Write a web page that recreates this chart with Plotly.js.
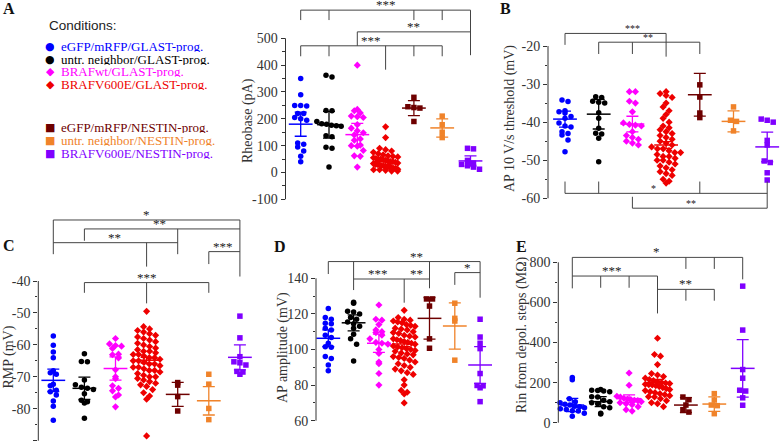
<!DOCTYPE html>
<html>
<head>
<meta charset="utf-8">
<script src="https://cdn.plot.ly/plotly-3.0.1.min.js"></script>
<style>
  html, body { margin: 0; padding: 0; background: #fff; }
  #plot { width: 781px; height: 446px; }
</style>
</head>
<body>
<div id="plot"></div>
<script>
const W = 781, H = 446;
const SERIF = 'Liberation Serif, Times New Roman, serif';
const SANS = 'Liberation Sans, Arial, sans-serif';
const AXIS_COLOR = '#333';

// Conditions (same order in every panel)
const conditions = [
  'eGFP/mRFP/GLAST-prog.', 'untr. neighbor/GLAST-prog.', 'BRAFwt/GLAST-prog.', 'BRAFV600E/GLAST-prog.',
  'eGFP/mRFP/NESTIN-prog.', 'untr. neighbor/NESTIN-prog.', 'BRAFV600E/NESTIN-prog.'
];
const colors = ['#0000ff', '#000000', '#ff00ff', '#ee0000', '#6e0000', '#f0832a', '#7f00ff'];
const symbols = ['circle', 'circle', 'diamond', 'diamond', 'square', 'square', 'square'];
const glyphs = ['●', '●', '◆', '◆', '■', '■', '■'];

// A: Rheobase (pA)
const rheobase = [
  [350, 290, 250, 250, 248, 220, 220, 205, 200, 195, 110, 105, 95, 80, 60, 40],
  [362, 356, 231, 230, 190, 182, 180, 176, 174, 172, 137, 133, 94, 90, 20],
  [400, 235, 230, 222, 210, 208, 205, 178, 165, 155, 148, 140, 125, 120, 102, 100, 98, 82, 62, 60, 20],
  [170, 130, 90, 85, 80, 75, 70, 66, 62, 60, 58, 55, 52, 50, 50, 48, 45, 42, 40, 40, 38, 35, 33, 30, 30, 28, 25, 25, 22, 20, 20, 18, 15, 15, 12, 10, 10, 8, 5, 5],
  [280, 245, 242, 240, 190],
  [210, 178, 150, 130],
  [90, 88, 45, 35, 30, 25, 20, 12]
];
const rheobaseMean = [180, 178, 141, 40, 240, 166, 43];
const rheobaseSem = [45, 50, 42, 10, 28, 34, 19];
const rheobaseTicks = [-100, 0, 100, 200, 300, 400, 500];
const rheobaseMinor = [-50, 50, 150, 250, 350, 450];
const rheobaseLines = [
  [1, 605, 7, 605], [1, 605, 1, 568], [2, 605, 2, 568], [5, 605, 5, 568], [6, 605, 6, 568], [7, 605, 7, 437],
  [3, 524, 7, 524], [3, 524, 3, 472],
  [1, 472, 6, 472], [1, 472, 1, 433], [2, 472, 2, 433], [4, 472, 4, 383], [5, 472, 5, 433], [6, 472, 6, 433]
];
const rheobaseStars = [[4, 605, '***'], [5, 524, '**'], [3.5, 472, '***']];

// B: AP 10 V/s threshold (mV)
const threshold = [
  [-34.2, -34.6, -37, -37.3, -37.6, -38.5, -39, -40.2, -41, -41.3, -42.5, -43, -43.4, -44.7, -47.8],
  [-33.3, -33.5, -34.5, -34.8, -35, -37.5, -39, -41.6, -42.9, -43.1, -44.2, -50.4],
  [-32, -32, -34.5, -35, -37.3, -40.2, -40.6, -40.8, -41, -42.5, -43.5, -44, -44.5, -45, -45.5, -46],
  [-32, -32.5, -33, -33.5, -35, -36, -37, -38, -39, -40, -41, -41.5, -42, -42.5, -43, -43.5, -44, -44.5, -45, -45.5, -46, -46.5, -47, -47, -47.5, -48, -48, -48.5, -49, -49, -49.5, -50, -50, -50.5, -51, -51.5, -52, -52.5, -53, -53.5, -54, -55, -55.5, -56],
  [-30.2, -33.4, -37.6, -38.8],
  [-36, -39.5, -39.8, -42.3],
  [-39.2, -39.5, -40, -44.8, -46, -50.2, -50.6, -53.3, -55.2]
];
const thresholdMean = [-39.2, -37.9, -40.5, -46, -32.8, -39.8, -46.5];
const thresholdSem = [2.1, 3.9, 2.05, 0.9, 5.6, 2.75, 3.9];
const thresholdTicks = [-60, -50, -40, -30, -20];
const thresholdMinor = [-55, -45, -35, -25];
const thresholdLines = [
  [1, -16.7, 4, -16.7], [1, -16.7, 1, -19.7], [4, -16.7, 4, -22.8],
  [2, -19, 5, -19], [2, -19, 2, -22.1], [3, -19, 3, -22.1], [5, -19, 5, -22.1],
  [1, -58.7, 7, -58.7], [1, -58.7, 1, -55.6], [2, -58.7, 2, -55.6], [5, -58.7, 5, -55.6], [7, -55.6, 7, -62.6],
  [3, -62.6, 7, -62.6], [3, -62.6, 3, -59.6]
];
const thresholdStars = [[3, -16.7, '***'], [3.46, -19, '**'], [3.64, -58.7, '*'], [4.74, -62.6, '**']];

// C: RMP (mV)
const rmp = [
  [-57.2, -60.1, -62.2, -64, -68.1, -68.7, -69.2, -72.3, -72.8, -74.2, -74.7, -75.7, -77.6, -79.2, -83.6],
  [-62.8, -65.2, -65.3, -71, -72.5, -73.3, -73.6, -74, -75.3, -77.3, -77.8, -78.2, -83],
  [-58, -59.7, -60.2, -60.4, -61.1, -62.9, -63.1, -64.1, -67.8, -70, -70.6, -72.8, -73.6, -74.4, -75.7, -76.3, -79.4],
  [-49.5, -54.3, -55, -55.5, -56, -56.5, -57, -57.5, -58, -58.5, -59, -59.5, -60, -60.5, -61, -61.5, -62, -62, -62.5, -63, -63, -63.5, -64, -64, -64.5, -65, -65, -65.5, -66, -66, -66.5, -67, -67, -67.5, -68, -68, -68.5, -69, -69.5, -70, -70, -70.5, -71, -71.5, -72, -72.5, -73, -74, -75, -76, -77, -88.5],
  [-71.8, -72.6, -76.2, -80.7],
  [-69.2, -72.3, -79.9, -83.4],
  [-51, -57.8, -63.7, -65.3, -65.6, -66.3, -68.3, -68.5, -69.2]
];
const rmpMean = [-71.1, -73.6, -67.4, -64.8, -75.5, -77.5, -63.9];
const rmpSem = [3.5, 3.5, 3.65, 0.9, 3.75, 4.45, 3.9];
const rmpTicks = [-90, -80, -70, -60, -50, -40];
const rmpMinor = [-85, -75, -65, -55, -45];
const rmpLines = [
  [1, -20.9, 7, -20.9], [1, -20.9, 1, -31.6], [7, -20.9, 7, -38.6],
  [2, -23.7, 7, -23.7], [2, -23.7, 2, -27.4], [5, -23.7, 5, -31.6],
  [1, -28, 5, -28], [4, -28, 4, -35.5],
  [6, -30.8, 7, -30.8], [6, -30.8, 6, -34.7],
  [2, -40.5, 6, -40.5], [2, -40.5, 2, -43.7], [6, -40.5, 6, -43.7], [4, -40.5, 4, -47]
];
const rmpStars = [[4, -20.9, '*'], [4.43, -23.7, '**'], [2.98, -28, '**'], [6.47, -30.8, '***'], [4, -40.5, '***']];

// D: AP amplitude (mV)
const amplitude = [
  [123, 118, 117, 114.7, 114.5, 112, 111, 108, 106.7, 103.5, 101.6, 101.2, 96, 95, 91.3, 88],
  [126.5, 126, 121.5, 121, 120, 118, 117, 115.5, 114.5, 113, 112, 108.5, 106, 103, 93.5],
  [125, 117, 116.5, 114, 111, 110, 109.5, 108, 106, 104, 103.5, 103, 100, 97.8, 93, 92, 86.5, 80],
  [122, 118, 117, 116.5, 116, 115.5, 115, 114, 113.5, 113, 112, 111.5, 111, 110, 109.5, 109, 108, 107.5, 107, 106, 105.5, 105, 104.5, 104, 103.5, 103, 102, 101.5, 101, 100.5, 100, 99.5, 99, 98, 97.5, 97, 96, 95.5, 95, 94, 93, 92, 91, 90, 89, 88, 87, 86, 83, 80, 77, 76, 75, 70],
  [128.4, 128.4, 124.4, 106, 100.7],
  [126, 117.5, 116, 94],
  [117, 107, 103.5, 100.5, 86.5, 79.8, 79.6, 78.5, 70.7]
];
const amplitudeMean = [106.3, 115, 103.5, 103.1, 117.5, 113.2, 91.3];
const amplitudeSem = [4.7, 4.5, 5.15, 1.5, 11.7, 13, 10.3];
const amplitudeTicks = [60, 80, 100, 120, 140];
const amplitudeMinor = [70, 90, 110, 130];
const amplitudeLines = [
  [1, 149.4, 7, 149.4], [1, 149.4, 1, 142.4], [2, 149.4, 2, 133.4], [5, 149.4, 5, 134.4], [7, 149.4, 7, 129.1],
  [2, 139.6, 5, 139.6], [4, 139.6, 4, 126.3],
  [6, 143.2, 7, 143.2], [6, 143.2, 6, 136.3]
];
const amplitudeStars = [[4.49, 149.4, '**'], [2.98, 139.6, '***'], [4.49, 139.6, '**'], [6.49, 143.2, '*']];

// E: Rin from depol. steps (MOhm)
const rin = [
  [226, 214, 120, 105, 100, 92, 88, 82, 80, 75, 70, 66, 60, 58, 47, 32],
  [165, 162, 160, 158, 155, 130, 128, 112, 105, 100, 95, 80, 75, 47, 43],
  [248, 187, 132, 128, 122, 118, 115, 112, 110, 105, 100, 95, 90, 80, 65, 58],
  [421, 340, 332, 290, 245, 238, 230, 222, 215, 210, 205, 200, 198, 195, 192, 190, 188, 185, 180, 175, 170, 165, 160, 155, 150, 145, 140, 135, 130, 128, 120, 110, 100, 95, 80],
  [128, 115, 88, 65, 53],
  [145, 113, 88, 85, 45],
  [681, 462, 265, 222, 162, 158, 124, 87]
];
const rinMean = [88, 105, 120, 200, 88, 93, 271];
const rinSem = [33, 25, 18.5, 16, 37, 36, 143];
const rinTicks = [0, 200, 400, 600, 800];
const rinMinor = [100, 300, 500, 700];
const rinLines = [
  [1, 824.6, 7, 824.6], [1, 824.6, 1, 670], [5, 824.6, 5, 767], [6, 824.6, 6, 767], [7, 824.6, 7, 715],
  [1, 731.5, 4, 731.5], [2, 731.5, 2, 673], [3, 731.5, 3, 673], [4, 731.5, 4, 545],
  [4, 665, 6, 665], [5, 665, 5, 608.5], [6, 665, 6, 608.5]
];
const rinStars = [[3.97, 824.6, '*'], [2.39, 731.5, '***'], [4.99, 665, '**']];

// Panel geometry (pixels measured on the figure)
const panels = [
  { n: '', letter: 'A', lx: 9, ly: 8, title: 'Rheobase (pA)', tx: 248, ty: 120,
    vals: rheobase, mean: rheobaseMean, sem: rheobaseSem,
    ticks: rheobaseTicks, minor: rheobaseMinor, lines: rheobaseLines, stars: rheobaseStars, starSize: 13,
    axisPx: 285.5, g1Px: 300.7, step: 28.3, xHi: 7.5, cal: [500, 38.3, -100, 199.3], yLo: -108, yHi: 620 },
  { n: '2', letter: 'B', lx: 505, ly: 8, title: 'AP 10 V/s threshold (mV)', tx: 510, ty: 119,
    vals: threshold, mean: thresholdMean, sem: thresholdSem,
    ticks: thresholdTicks, minor: thresholdMinor, lines: thresholdLines, stars: thresholdStars, starSize: 10,
    axisPx: 548, g1Px: 565, step: 33.7, xHi: 7.4, cal: [-20, 46, -60, 198.3], yLo: -64, yHi: -15 },
  { n: '3', letter: 'C', lx: 9, ly: 245, title: 'RMP (mV)', tx: 8.5, ty: 357,
    vals: rmp, mean: rmpMean, sem: rmpSem,
    ticks: rmpTicks, minor: rmpMinor, lines: rmpLines, stars: rmpStars, starSize: 13,
    axisPx: 38.3, g1Px: 53.3, step: 31.1, xHi: 7.5, cal: [-40, 281, -90, 440.7], yLo: -91, yHi: -19.5 },
  { n: '4', letter: 'D', lx: 280, ly: 246, title: 'AP amplitude (mV)', tx: 283, ty: 348,
    vals: amplitude, mean: amplitudeMean, sem: amplitudeSem,
    ticks: amplitudeTicks, minor: amplitudeMinor, lines: amplitudeLines, stars: amplitudeStars, starSize: 13,
    axisPx: 316, g1Px: 328.3, step: 25.3, xHi: 7.5, cal: [140, 278.3, 60, 420.7], yLo: 58, yHi: 151 },
  { n: '5', letter: 'E', lx: 521, ly: 246, title: 'Rin from depol. steps (MΩ)', tx: 522, ty: 335,
    vals: rin, mean: rinMean, sem: rinSem,
    ticks: rinTicks, minor: rinMinor, lines: rinLines, stars: rinStars, starSize: 13,
    axisPx: 558.3, g1Px: 572.3, step: 28.4, xHi: 7.5, cal: [800, 262.3, 0, 422.7], yLo: -12, yHi: 830 }
];

// Spread points that share a value band side by side (simple beeswarm)
function swarmX(vals, g, band, step) {
  const bins = {};
  vals.forEach((v, i) => {
    const b = Math.round(v / band);
    (bins[b] = bins[b] || []).push(i);
  });
  const xs = new Array(vals.length);
  Object.values(bins).forEach(idx => {
    const n = idx.length;
    const s = Math.min(step, 0.86 / Math.max(n - 1, 1));
    idx.forEach((i, k) => { xs[i] = g + (k - (n - 1) / 2) * s; });
  });
  return xs;
}

const traces = [];
const shapes = [];
const annotations = [];
const layout = {
  width: W, height: H,
  margin: { l: 0, r: 0, t: 0, b: 0 },
  paper_bgcolor: '#fff', plot_bgcolor: 'rgba(0,0,0,0)',
  showlegend: false,
  font: { family: SERIF, color: AXIS_COLOR }
};

panels.forEach(p => {
  const xId = 'x' + p.n, yId = 'y' + p.n;
  const [vA, pA, vB, pB] = p.cal;
  const ppu = (pB - pA) / (vA - vB);
  const top = pA - (p.yHi - vA) * ppu;
  const bot = pA + (vA - p.yLo) * ppu;
  const xLo = 1 - (p.g1Px - p.axisPx) / p.step;
  const right = p.g1Px + (p.xHi - 1) * p.step;

  layout['xaxis' + p.n] = {
    domain: [p.axisPx / W, right / W], range: [xLo, p.xHi],
    anchor: yId, visible: false, fixedrange: true
  };
  layout['yaxis' + p.n] = {
    domain: [1 - bot / H, 1 - top / H], range: [p.yLo, p.yHi],
    anchor: xId, showline: false, zeroline: false, showgrid: false,
    tickmode: 'array', tickvals: p.ticks, ticktext: p.ticks.map(v => String(v)),
    ticks: 'outside', ticklen: 4, tickwidth: 1, tickcolor: AXIS_COLOR,
    tickfont: { family: SERIF, size: 14, color: AXIS_COLOR },
    minor: { tickmode: 'array', tickvals: p.minor, ticks: 'outside', ticklen: 2.5, tickwidth: 1, tickcolor: AXIS_COLOR, showgrid: false },
    fixedrange: true
  };

  // axis line only over the tick span
  shapes.push({
    type: 'line', xref: 'paper', yref: yId,
    x0: p.axisPx / W, x1: p.axisPx / W,
    y0: p.ticks[0], y1: p.ticks[p.ticks.length - 1],
    line: { color: AXIS_COLOR, width: 1 }
  });

  // scatter points per condition
  const band = 6 / ppu;
  const stepUnits = 6 / p.step;
  p.vals.forEach((vals, i) => {
    traces.push({
      type: 'scatter', mode: 'markers', xaxis: xId, yaxis: yId,
      x: swarmX(vals, i + 1, band, stepUnits), y: vals,
      marker: { symbol: symbols[i], size: 5.5, color: colors[i] },
      cliponaxis: false, hoverinfo: 'skip'
    });
  });

  // mean +/- error
  p.mean.forEach((m, i) => {
    traces.push({
      type: 'scatter', mode: 'markers', xaxis: xId, yaxis: yId,
      x: [i + 1], y: [m],
      marker: { symbol: 'line-ew-open', size: 17, color: colors[i], line: { width: 1.5, color: colors[i] } },
      error_y: { type: 'data', array: [p.sem[i]], visible: true, color: colors[i], thickness: 1.3, width: 6 },
      cliponaxis: false, hoverinfo: 'skip'
    });
  });

  // significance brackets
  p.lines.forEach(([xa, ya, xb, yb]) => {
    shapes.push({
      type: 'line', xref: xId, yref: yId, x0: xa, y0: ya, x1: xb, y1: yb,
      line: { color: '#444', width: 1 }
    });
  });
  p.stars.forEach(([x, y, t]) => {
    annotations.push({
      xref: xId, yref: yId, x: x, y: y, text: t, showarrow: false,
      xanchor: 'center', yanchor: 'bottom', yshift: p.starSize < 12 ? -3 : -4,
      font: { family: SERIF, size: p.starSize, color: '#222' }
    });
  });

  // axis title
  annotations.push({
    xref: 'paper', yref: 'paper', x: p.tx / W, y: 1 - p.ty / H, text: p.title,
    showarrow: false, textangle: -90, xanchor: 'center', yanchor: 'middle',
    font: { family: SERIF, size: 14, color: AXIS_COLOR }
  });

  // panel letter
  annotations.push({
    xref: 'paper', yref: 'paper', x: p.lx / W, y: 1 - p.ly / H, text: '<b>' + p.letter + '</b>',
    showarrow: false, xanchor: 'center', yanchor: 'middle',
    font: { family: SERIF, size: 16, color: '#111' }
  });
});

// hand-drawn legend
annotations.push({
  xref: 'paper', yref: 'paper', x: 47 / W, y: 1 - 25 / H, text: 'Conditions:',
  showarrow: false, xanchor: 'left', yanchor: 'middle',
  font: { family: SANS, size: 13.5, color: '#222' }
});
const legendRows = [46, 59, 71.5, 84, 127, 140, 153];
conditions.forEach((name, i) => {
  annotations.push({
    xref: 'paper', yref: 'paper', x: 50 / W, y: 1 - legendRows[i] / H, text: glyphs[i],
    showarrow: false, xanchor: 'center', yanchor: 'middle', height: 12, borderpad: 0,
    font: { family: 'DejaVu Sans', size: 11, color: colors[i] }
  });
  annotations.push({
    xref: 'paper', yref: 'paper', x: 60 / W, y: 1 - legendRows[i] / H, text: name,
    showarrow: false, xanchor: 'left', yanchor: 'middle', height: 12, borderpad: 0,
    font: { family: SERIF, size: 13, color: colors[i] }
  });
});

layout.shapes = shapes;
layout.annotations = annotations;

Plotly.newPlot('plot', traces, layout, { displayModeBar: false, staticPlot: true });
</script>
</body>
</html>
